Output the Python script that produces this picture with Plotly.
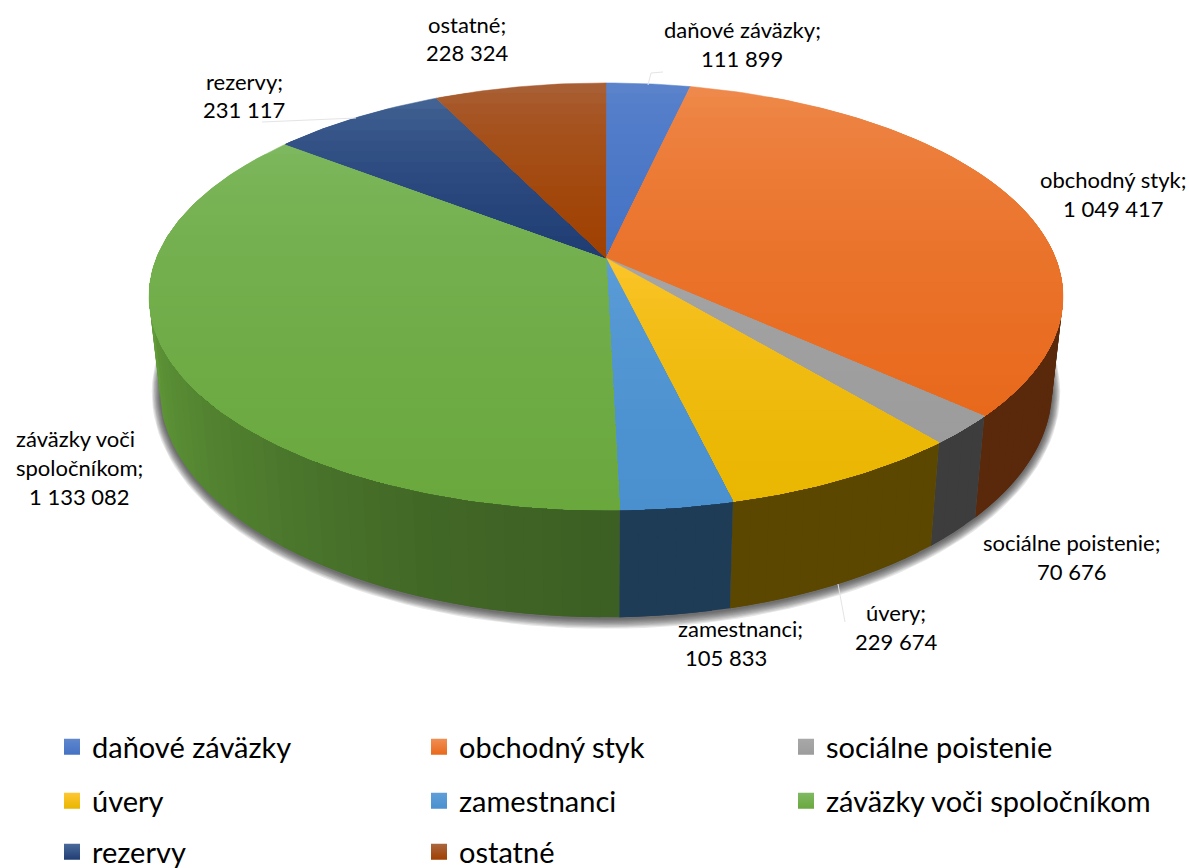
import math
import numpy as np
import plotly.graph_objects as go

categories = ["daňové záväzky", "obchodný styk", "sociálne poistenie", "úvery",
              "zamestnanci", "záväzky voči spoločníkom", "rezervy", "ostatné"]
values = [111899, 1049417, 70676, 229674, 105833, 1133082, 231117, 228324]

base_colors = ["#4472C4", "#E8691C", "#9C9C9C", "#E9B600", "#4A90CF", "#6AA83E", "#1F3D73", "#A04000"]
light_colors = ["#5F86CE", "#F08E52", "#A8A8A8", "#FFC733", "#5F9FD8", "#80B962", "#4B6A9B", "#AB663F"]

# geometry of the perspective view, pixels
CX, APEX_Y, R, B, K = 606, 258, 449.5, 206.6, 0.18
R2, B2, APEX2_Y = 0.976 * 449.5, 220, 349


def hex2rgb(h):
    return np.array([int(h[i:i + 2], 16) for i in (1, 3, 5)], float)


def rgb(c):
    return "rgb(%d,%d,%d)" % tuple(np.clip(np.round(c), 0, 255))


def top(theta):
    x, y = np.sin(theta), np.cos(theta)
    w = 1 + K * y
    return CX + R * x / w, APEX_Y - B * y / w


def bottom(theta, dr=0.0, db=0.0):
    x, y = np.sin(theta), np.cos(theta)
    w = 1 + K * y
    return CX + (R2 + dr) * x / w, APEX2_Y - (B2 + db) * y / w


def clip_below(poly, y0):
    out = []
    for i in range(len(poly)):
        a, b = poly[i], poly[(i + 1) % len(poly)]
        if a[1] >= y0:
            out.append(a)
        if (a[1] >= y0) != (b[1] >= y0):
            t = (y0 - a[1]) / (b[1] - a[1])
            out.append((a[0] + t * (b[0] - a[0]), y0))
    return out


def side_shade(i, deg):
    if i == 5:
        return np.interp(deg, [178, 200, 262], [0.56, 0.62, 0.93])
    if i == 4:
        return 0.42
    return 0.39


fig = go.Figure()
total = sum(values)
edges = np.cumsum([0] + values) / total * 2 * math.pi

# drop shadow under the pie
ts = np.linspace(0, 2 * math.pi, 181)
for d in range(9, 0, -1):
    sx, sy = bottom(ts, dr=d * 0.9, db=d * 0.95)
    fig.add_trace(go.Scatter(x=sx, y=sy + 1, mode="lines", fill="toself", line=dict(width=0),
                             fillcolor="rgba(40,40,40,0.11)", hoverinfo="skip", showlegend=False))

# side walls: later strips paint over the overlap of earlier ones, so no seams appear
for i, base in enumerate(base_colors):
    a0, a1 = edges[i], edges[i + 1]
    lo, hi = max(a0, math.radians(98)), min(a1, math.radians(262))
    if hi <= lo:
        continue
    n = max(1, int(math.degrees(hi - lo) / 2))
    grid = np.linspace(lo, hi, n + 1)
    for s in range(n):
        th = np.linspace(grid[s], grid[min(s + 2, n)], 5)
        tx, ty = top(th)
        bx, by = bottom(th)
        col = rgb(hex2rgb(base) * side_shade(i, math.degrees((grid[s] + grid[s + 1]) / 2)))
        fig.add_trace(go.Scatter(x=np.r_[tx, bx[::-1]], y=np.r_[ty, by[::-1]], mode="lines", fill="toself",
                                 fillcolor=col, line=dict(width=0), hoverinfo="skip", showlegend=False))

# top faces with a vertical gradient per slice, painted top to bottom
for i, (base, light) in enumerate(zip(base_colors, light_colors)):
    th = np.linspace(edges[i], edges[i + 1], max(3, int(math.degrees(edges[i + 1] - edges[i]))))
    rx, ry = top(th)
    poly = [(CX, APEX_Y)] + list(zip(rx, ry))
    ys = [p[1] for p in poly]
    y_min, y_max = min(ys), max(ys)
    n = max(4, int((y_max - y_min) / 10))
    bands = np.linspace(y_min, y_max, n + 1)
    for b in range(n):
        part = clip_below(poly, bands[b]) if b else poly
        if len(part) < 3:
            continue
        t = ((b + 0.5) / n) ** 0.5
        col = rgb(hex2rgb(light) * (1 - t) + hex2rgb(base) * t)
        px, py = zip(*(part + [part[0]]))
        line = dict(color=col, width=0.5) if b == 0 else dict(width=0)
        fig.add_trace(go.Scatter(x=px, y=py, mode="lines", fill="toself", fillcolor=col,
                                 line=line, hoverinfo="skip", showlegend=False))

# legend entries, three rows of three columns
legend_ids = ["legend", "legend", "legend", "legend2", "legend2", "legend2", "legend3", "legend3"]
for name, base, light, lg in zip(categories, base_colors, light_colors, legend_ids):
    fig.add_trace(go.Scatter(x=[None], y=[None], mode="markers", name=name, legend=lg,
                             marker=dict(symbol="square", size=16, color=light,
                                         gradient=dict(type="vertical", color=base))))


def fmt(v):
    return f"{v:,}".replace(",", " ")


# data labels: per line so that each can be placed as in the reference
label_lines = [
    (f"{categories[7]};", 467, 24), (fmt(values[7]), 467, 52),
    (f"{categories[0]};", 742, 29), (fmt(values[0]), 742, 58),
    (f"{categories[1]};", 1113, 179), (fmt(values[1]), 1113, 208),
    (f"{categories[2]};", 1071, 542), (fmt(values[2]), 1071, 571),
    (f"{categories[3]};", 896, 612), (fmt(values[3]), 896, 641),
    (f"{categories[4]};", 740, 628), (fmt(values[4]), 726, 657),
    ("záväzky voči", 75, 438), ("spoločníkom;", 79, 467), (fmt(values[5]), 79, 496),
    (f"{categories[6]};", 244, 81), (fmt(values[6]), 244, 109),
]
for text, lx, ly in label_lines:
    fig.add_annotation(x=lx, y=ly, text=text, showarrow=False, xanchor="center", yanchor="middle",
                       font=dict(family="Lato", size=22, color="#000000"))

# leader lines
for path in ["M 838 584 L 845 622", "M 262 122 L 356 118", "M 648 85 L 651 73 L 663 72"]:
    fig.add_shape(type="path", path=path, line=dict(color="#E4E4E4", width=1), layer="above")

legend_common = dict(orientation="h", xanchor="left", yanchor="middle", x=52 / 1189,
                     entrywidth=322, entrywidthmode="pixels", bgcolor="rgba(0,0,0,0)",
                     font=dict(family="Lato", size=29, color="#000000"))
fig.update_layout(
    width=1189, height=868, margin=dict(l=0, r=0, t=0, b=0, autoexpand=False),
    paper_bgcolor="#FFFFFF", plot_bgcolor="#FFFFFF", showlegend=True,
    xaxis=dict(range=[0, 1189], visible=False, fixedrange=True),
    yaxis=dict(range=[868, 0], visible=False, fixedrange=True),
    legend=dict(y=1 - 747 / 868, **legend_common),
    legend2=dict(y=1 - 801 / 868, **legend_common),
    legend3=dict(y=1 - 852 / 868, **legend_common),
)
fig.write_html("out.html", config={"displayModeBar": False}, post_script="document.body.style.margin='0';")
